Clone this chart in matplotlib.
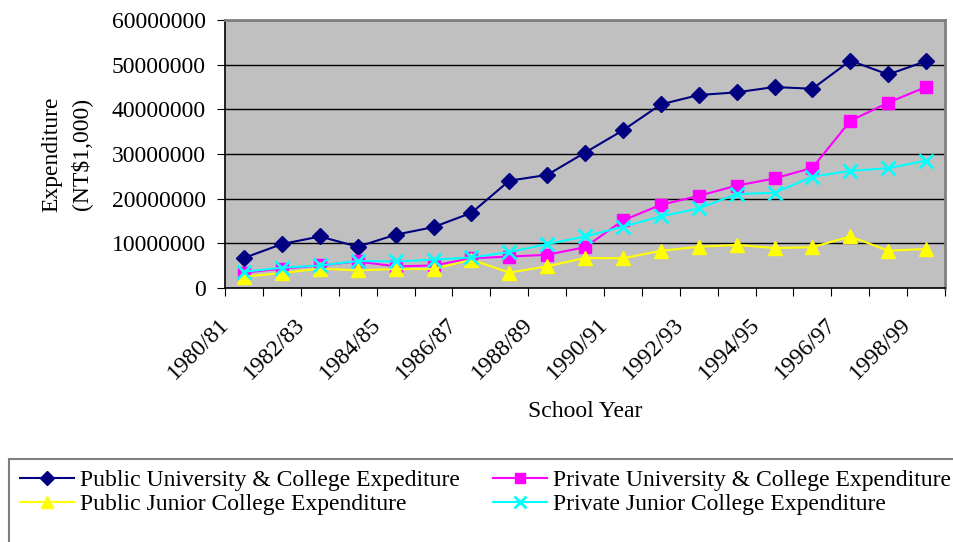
import matplotlib.pyplot as plt
import matplotlib.transforms as mtransforms
from matplotlib.patches import Rectangle
import numpy as np

plt.rcParams['font.family'] = ['Liberation Serif', 'DejaVu Serif']

years = ['1980/81', '1981/82', '1982/83', '1983/84', '1984/85', '1985/86', '1986/87',
         '1987/88', '1988/89', '1989/90', '1990/91', '1991/92', '1992/93', '1993/94',
         '1994/95', '1995/96', '1996/97', '1997/98', '1998/99']

public_univ = [6700000, 9800000, 11500000, 9200000, 11900000, 13600000, 16800000,
               24000000, 25300000, 30300000, 35300000, 41100000, 43200000, 43800000,
               45000000, 44600000, 50900000, 47800000, 50800000]
private_univ = [3400000, 4300000, 5000000, 5900000, 4800000, 5000000, 6600000,
                7000000, 7400000, 9100000, 15100000, 18600000, 20600000, 22900000,
                24500000, 26900000, 37400000, 41500000, 45000000]
public_junior = [2500000, 3300000, 4300000, 3900000, 4200000, 4200000, 6300000,
                 3400000, 4800000, 6700000, 6600000, 8300000, 9200000, 9600000,
                 8900000, 9100000, 11500000, 8300000, 8700000]
private_junior = [3600000, 4500000, 5000000, 6000000, 5900000, 6300000, 6800000,
                  8000000, 9800000, 11500000, 13700000, 16000000, 17800000, 21000000,
                  21300000, 24900000, 26200000, 26800000, 28500000]

FS = 17

fig = plt.figure(figsize=(9.54, 5.42), dpi=100)
ax = fig.add_axes([0.236, 0.469, 0.7546, 0.494])
ax.set_facecolor('#c0c0c0')

x = np.arange(len(years))
l1, = ax.plot(x, public_univ, color='#000080', marker='D', ms=8, lw=1.5,
              label='Public University & College Expediture')
l2, = ax.plot(x, private_univ, color='#ff00ff', marker='s', ms=9, lw=1.5,
              label='Private University & College Expenditure')
l3, = ax.plot(x, public_junior, color='#ffff00', marker='^', ms=10, lw=1.5,
              label='Public Junior College Expenditure')
l4, = ax.plot(x, private_junior, color='#00ffff', marker='x', ms=10, mew=2, lw=1.5,
              label='Private Junior College Expenditure')

ax.set_xlim(-0.5, len(years) - 0.5)
ax.set_ylim(0, 60000000)
ax.set_yticks(np.arange(0, 60000001, 10000000))
ax.set_yticklabels([str(v) for v in range(0, 60000001, 10000000)], fontsize=FS)
ax.yaxis.grid(True, color='black', lw=1)
ax.set_axisbelow(True)

# ticks sit between categories, labels on every other year
ax.set_xticks(np.arange(-0.5, len(years), 1))
ax.set_xticklabels([])
ax.set_xticks(x[::2], minor=True)
ax.set_xticklabels(years[::2], minor=True, rotation=45, ha='right', va='center',
                   rotation_mode='anchor', fontsize=FS)
ax.tick_params(axis='x', which='minor', length=0, pad=24)
ax.tick_params(axis='both', which='major', direction='out', length=6, color='black')
ax.tick_params(axis='y', pad=8)
shift = mtransforms.ScaledTranslation(-0.18, 0, fig.dpi_scale_trans)
for lab in ax.get_xticklabels(minor=True):
    lab.set_transform(lab.get_transform() + shift)

for side in ['top', 'right']:
    ax.spines[side].set_color('#808080')
    ax.spines[side].set_linewidth(2)
for side in ['left', 'bottom']:
    ax.spines[side].set_color('black')
    ax.spines[side].set_linewidth(1.2)

ax.set_xlabel('School Year', fontsize=FS, labelpad=13)
ax.set_ylabel('Expenditure\n(NT$1,000)', fontsize=FS, labelpad=14, linespacing=1.45)

# legend box runs off the bottom and right of the figure
fig.patches.append(Rectangle((9 / 954, -0.05), 1.0, 1 - 459 / 542 + 0.05,
                             transform=fig.transFigure, fill=False,
                             edgecolor='#808080', lw=1.5, clip_on=False))
fig.legend([l1, l3, l2, l4], [l.get_label() for l in (l1, l3, l2, l4)],
           loc='upper left', bbox_to_anchor=(9 / 954, 1 - 459 / 542),
           ncol=2, fontsize=FS, frameon=False, handlelength=2.3,
           handletextpad=0.25, borderaxespad=0, borderpad=0.45,
           labelspacing=0.1, columnspacing=1.4, markerscale=0.85)

fig.savefig('out.png', dpi=100)
